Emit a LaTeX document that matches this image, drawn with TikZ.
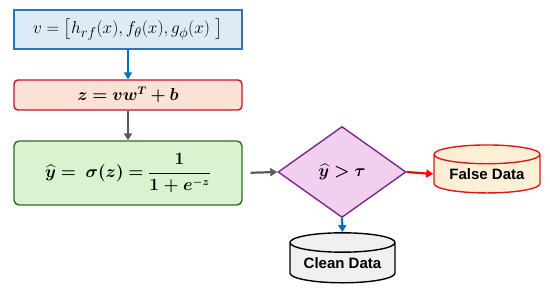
\documentclass[tikz,border=0pt]{standalone}
\usepackage{amsmath,bm}
\usepackage{fontspec}
\newfontfamily\labelfont{Liberation Sans}
\usetikzlibrary{shapes.geometric,arrows.meta}
\definecolor{blueB}{HTML}{2E75B6}
\definecolor{blueF}{HTML}{DDEBF7}
\definecolor{blueA}{HTML}{0070C0}
\definecolor{redB}{HTML}{C8102E}
\definecolor{redF}{HTML}{FBE2D5}
\definecolor{greenB}{HTML}{2F6B2A}
\definecolor{greenF}{HTML}{D9F2D0}
\definecolor{grayA}{HTML}{595959}
\definecolor{purpB}{HTML}{7A2A8A}
\definecolor{purpF}{HTML}{F2CFEE}
\definecolor{redA}{HTML}{FF0000}
\definecolor{falseF}{HTML}{FCEFD6}
\definecolor{falseB}{HTML}{D91A1A}
\definecolor{cleanF}{HTML}{F0F0F0}
\begin{document}
\begin{tikzpicture}[x=1pt,y=-1pt,
  box/.style={draw, line width=1.4pt, inner sep=0pt, minimum width=228pt},
  conn/.style={line width=2.2pt, -{Triangle[length=7pt,width=8pt]}},
  db/.style={cylinder, shape border rotate=90, draw, line width=1.4pt, inner sep=0pt,
    font=\labelfont\bfseries\fontsize{15}{18}\selectfont},
  mathtext/.style={font=\fontsize{19}{22}\selectfont}]
\useasboundingbox (0,0) rectangle (550,297);
\node[box, draw=blueB, fill=blueF, minimum height=39pt, mathtext] (v) at (128,29.5)
  {$v = \bigl[h_{rf}(x), f_{\theta}(x), g_{\phi}(x)\ \bigr]$};
\node[box, draw=redB, fill=redF, minimum height=30pt, rounded corners=4pt,
  font=\fontsize{16}{19}\selectfont] (z) at (128,95)
  {$\bm{z = v w^{T} + b}$};
\node[box, draw=greenB, fill=greenF, minimum height=64pt, rounded corners=5pt,
  font=\fontsize{16}{19}\selectfont] (y) at (128,173)
  {$\bm{\widehat{y} =\ \sigma(z) = \dfrac{1}{1+e^{-z}}}$};
\node[diamond, draw=purpB, fill=purpF, line width=1.4pt, inner sep=0pt,
  minimum width=128pt, minimum height=91pt, font=\fontsize{17}{20}\selectfont] (d) at (342,172)
  {$\bm{\widehat{y} > \tau}$};
\node[db, draw=falseB, fill=falseF, minimum width=106pt, minimum height=48pt, aspect=0.25] (f) at (487,174) {False Data};
\node[db, draw=black, fill=cleanF, minimum width=105pt, minimum height=50pt, aspect=0.25] (c) at (342.5,263) {Clean Data};
\draw[conn, blueA] (v.south) -- (z.north);
\draw[conn, grayA] (z.south) -- (y.north);
\draw[conn, grayA, shorten <=8pt] (y.east) -- (d.west);
\draw[conn, redA] (d.east) -- (f.west);
\draw[conn, blueA] (d.south) -- (c.north);
\end{tikzpicture}
\end{document}
